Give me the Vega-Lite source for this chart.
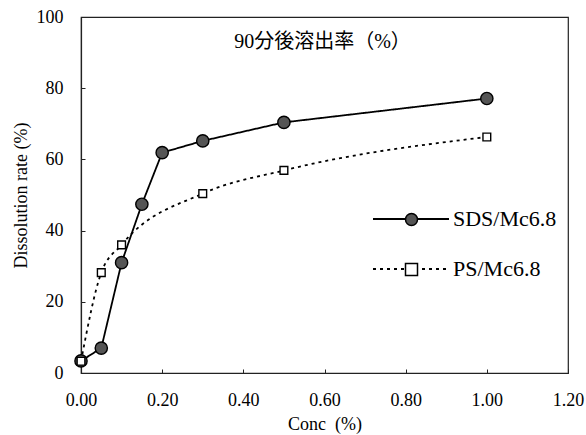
{
  "$schema": "https://vega.github.io/schema/vega-lite/v6.json",
  "width": 487,
  "height": 356,
  "autosize": "none",
  "padding": {"left": 81, "top": 17, "right": 18, "bottom": 62},
  "background": "white",
  "config": {
    "font": "Liberation Serif",
    "view": {"stroke": "#222", "strokeWidth": 1.2},
    "axis": {
      "grid": false,
      "domainColor": "#222",
      "domainWidth": 1.2,
      "tickColor": "#222",
      "tickSize": -4,
      "labelFlush": false,
      "labelFont": "Liberation Serif",
      "labelFontSize": 18,
      "labelColor": "black",
      "titleFont": "Liberation Serif",
      "titleFontSize": 18,
      "titleFontWeight": "normal",
      "titleColor": "black"
    }
  },
  "title": {
    "text": "90分後溶出率（%）",
    "font": "Liberation Serif, Noto Sans CJK JP",
    "fontSize": 20,
    "fontWeight": "normal",
    "color": "black",
    "anchor": "middle",
    "frame": "group",
    "baseline": "middle",
    "dx": -2,
    "offset": -54
  },
  "data": {
    "values": [
      {"conc": 0.0, "rate": 3.4, "series": "SDS/Mc6.8"},
      {"conc": 0.05, "rate": 7.0, "series": "SDS/Mc6.8"},
      {"conc": 0.1, "rate": 31.0, "series": "SDS/Mc6.8"},
      {"conc": 0.15, "rate": 47.4, "series": "SDS/Mc6.8"},
      {"conc": 0.2, "rate": 61.9, "series": "SDS/Mc6.8"},
      {"conc": 0.3, "rate": 65.2, "series": "SDS/Mc6.8"},
      {"conc": 0.5, "rate": 70.4, "series": "SDS/Mc6.8"},
      {"conc": 1.0, "rate": 77.1, "series": "SDS/Mc6.8"},
      {"conc": 0.0, "rate": 3.3, "series": "PS/Mc6.8"},
      {"conc": 0.05, "rate": 28.2, "series": "PS/Mc6.8"},
      {"conc": 0.1, "rate": 36.0, "series": "PS/Mc6.8"},
      {"conc": 0.3, "rate": 50.4, "series": "PS/Mc6.8"},
      {"conc": 0.5, "rate": 56.9, "series": "PS/Mc6.8"},
      {"conc": 1.0, "rate": 66.3, "series": "PS/Mc6.8"}
    ]
  },
  "encoding": {
    "x": {
      "field": "conc",
      "type": "quantitative",
      "scale": {"domain": [0, 1.2], "nice": false, "zero": false, "padding": 0},
      "axis": {
        "values": [0, 0.2, 0.4, 0.6, 0.8, 1.0, 1.2],
        "format": ".2f",
        "labelPadding": 22,
        "title": "Conc\u00a0\u00a0(%)",
        "titlePadding": 6
      }
    },
    "y": {
      "field": "rate",
      "type": "quantitative",
      "scale": {"domain": [0, 100], "nice": false, "padding": 0},
      "axis": {
        "values": [0, 20, 40, 60, 80, 100],
        "labelPadding": 22,
        "title": "Dissolution rate (%)",
        "titlePadding": 6
      }
    }
  },
  "layer": [
    {
      "transform": [{"filter": "datum.series === 'SDS/Mc6.8'"}],
      "mark": {"type": "line", "color": "black", "strokeWidth": 1.8},
      "encoding": {
        "strokeDash": {
          "field": "series",
          "type": "nominal",
          "sort": ["SDS/Mc6.8", "PS/Mc6.8"],
          "scale": {"range": [[1, 0], [3, 4]]},
          "legend": {
            "title": null,
            "orient": "none",
            "legendX": 291,
            "legendY": 163,
            "padding": 0,
            "symbolType": "stroke",
            "symbolSize": 5776,
            "symbolStrokeWidth": 1.8,
            "symbolStrokeColor": "black",
            "rowPadding": -55,
            "labelFont": "Liberation Serif",
            "labelFontSize": 22,
            "labelColor": "black",
            "labelOffset": 3
          }
        }
      }
    },
    {
      "transform": [{"filter": "datum.series === 'PS/Mc6.8'"}],
      "mark": {"type": "line", "color": "black", "strokeWidth": 1.8, "interpolate": "monotone"},
      "encoding": {
        "strokeDash": {
          "field": "series",
          "type": "nominal",
          "sort": ["SDS/Mc6.8", "PS/Mc6.8"],
          "scale": {"range": [[1, 0], [3, 4]]}
        }
      }
    },
    {
      "mark": {"type": "point", "filled": true, "stroke": "black", "strokeWidth": 1.4, "opacity": 1},
      "encoding": {
        "shape": {
          "field": "series",
          "type": "nominal",
          "scale": {"domain": ["SDS/Mc6.8", "PS/Mc6.8"], "range": ["circle", "square"]},
          "legend": {
            "title": null,
            "orient": "none",
            "legendX": 323.5,
            "legendY": 195.5,
            "padding": 0,
            "symbolSize": 144,
            "symbolStrokeWidth": 1.5,
            "rowPadding": 32,
            "labelFontSize": 1,
            "labelOpacity": 0,
            "labelOffset": 0
          }
        },
        "fill": {
          "field": "series",
          "type": "nominal",
          "scale": {"domain": ["SDS/Mc6.8", "PS/Mc6.8"], "range": ["#555555", "#ffffff"]}
        },
        "size": {
          "field": "series",
          "type": "nominal",
          "scale": {"domain": ["PS/Mc6.8", "SDS/Mc6.8"], "range": [60, 150]},
          "legend": null
        }
      }
    }
  ]
}
